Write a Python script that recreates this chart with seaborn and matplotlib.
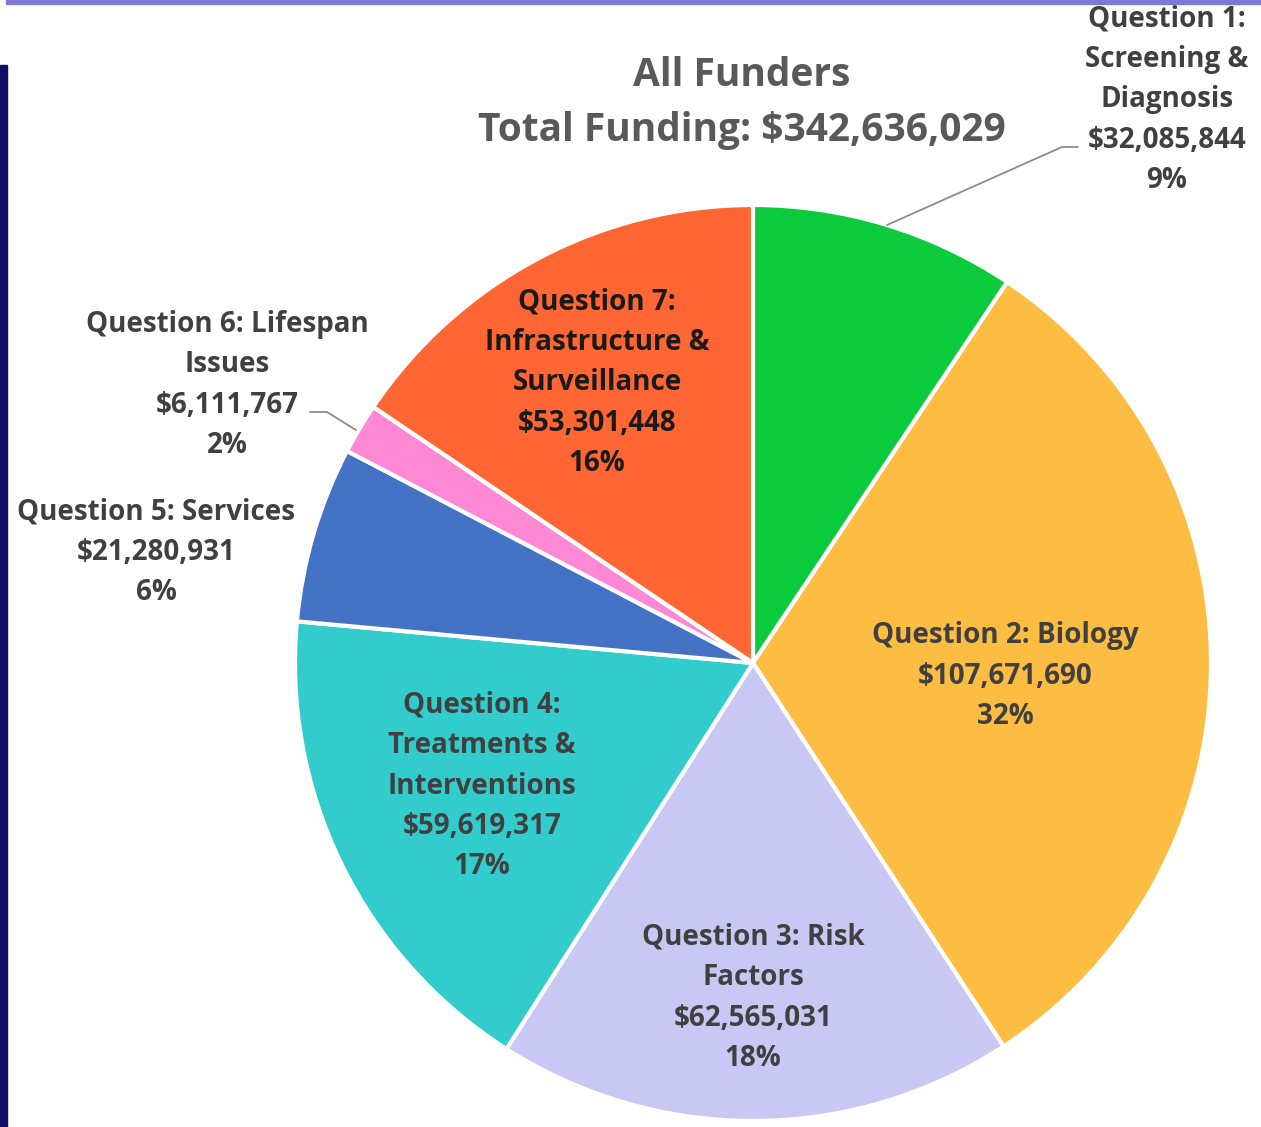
import matplotlib
matplotlib.use("Agg")
import matplotlib.pyplot as plt
import seaborn as sns

# data
questions = [
    "Question 1:\nScreening &\nDiagnosis",
    "Question 2: Biology",
    "Question 3: Risk\nFactors",
    "Question 4:\nTreatments &\nInterventions",
    "Question 5: Services",
    "Question 6: Lifespan\nIssues",
    "Question 7:\nInfrastructure &\nSurveillance",
]
funding = [32085844, 107671690, 62565031, 59619317, 21280931, 6111767, 53301448]
percent_labels = ["9%", "32%", "18%", "17%", "6%", "2%", "16%"]
colors = ["#0BCB3C", "#FDBC42", "#C9C8F5", "#33CCCC", "#4472C4", "#FF88D5", "#FF6633"]
title_lines = ["All Funders", "Total Funding: $342,636,029"]


def main():
    sns.set_theme(style="white")
    plt.rcParams["font.family"] = ["Open Sans", "DejaVu Sans"]

    W, H = 1261, 1127
    fig = plt.figure(figsize=(W / 100, H / 100), dpi=100)
    ax = fig.add_axes([0, 0, 1, 1])

    # pie centre and radius in pixels
    cx, cy, r = 753, 663, 458

    def px(x, y):
        return (x - cx) / r, (cy - y) / r

    ax.pie(funding, colors=colors, startangle=90, counterclock=False,
           radius=1, center=(0, 0),
           wedgeprops=dict(edgecolor="white", linewidth=3))
    ax.set_xlim(-cx / r, (W - cx) / r)
    ax.set_ylim((cy - H) / r, cy / r)
    ax.set_aspect("equal")
    ax.axis("off")

    # label positions (pixel centres) and text colours
    label_pos = [(1167, 100), (1005, 676), (753, 998), (482, 786),
                 (156, 552), (227, 385), (597, 383)]
    text_colors = ["#404040", "#404040", "#404040", "#404040",
                   "#404040", "#404040", "#1A1A1A"]
    for name, val, pct, (lx, ly), tc in zip(questions, funding, percent_labels,
                                            label_pos, text_colors):
        txt = f"{name}\n${val:,}\n{pct}"
        x, y = px(lx, ly)
        ax.text(x, y, txt, ha="center", va="center", fontsize=20,
                fontweight="bold", color=tc, linespacing=1.52)

    # leader lines
    for pts in ([(887, 225), (1062, 147), (1078, 147)],
                [(310, 412), (327, 412), (356, 430)]):
        xs, ys = zip(*[px(a, b) for a, b in pts])
        ax.plot(xs, ys, color="#8C8C8C", linewidth=1.3)

    # title
    for line, ty in zip(title_lines, [76, 131]):
        x, y = px(742, ty)
        ax.text(x, y, line, ha="center", va="center", fontsize=28,
                fontweight="bold", color="#595959")

    # slide frame pieces: top border and left strip
    fig.add_artist(plt.Rectangle((6 / W, 1 - 4 / H), 1, 4 / H,
                                 transform=fig.transFigure, color="#7B7BD6"))
    fig.add_artist(plt.Rectangle((0, 0), 7 / W, 1 - 65 / H,
                                 transform=fig.transFigure, color="#140C64"))

    fig.savefig("out.png", dpi=100)


if __name__ == "__main__":
    main()
